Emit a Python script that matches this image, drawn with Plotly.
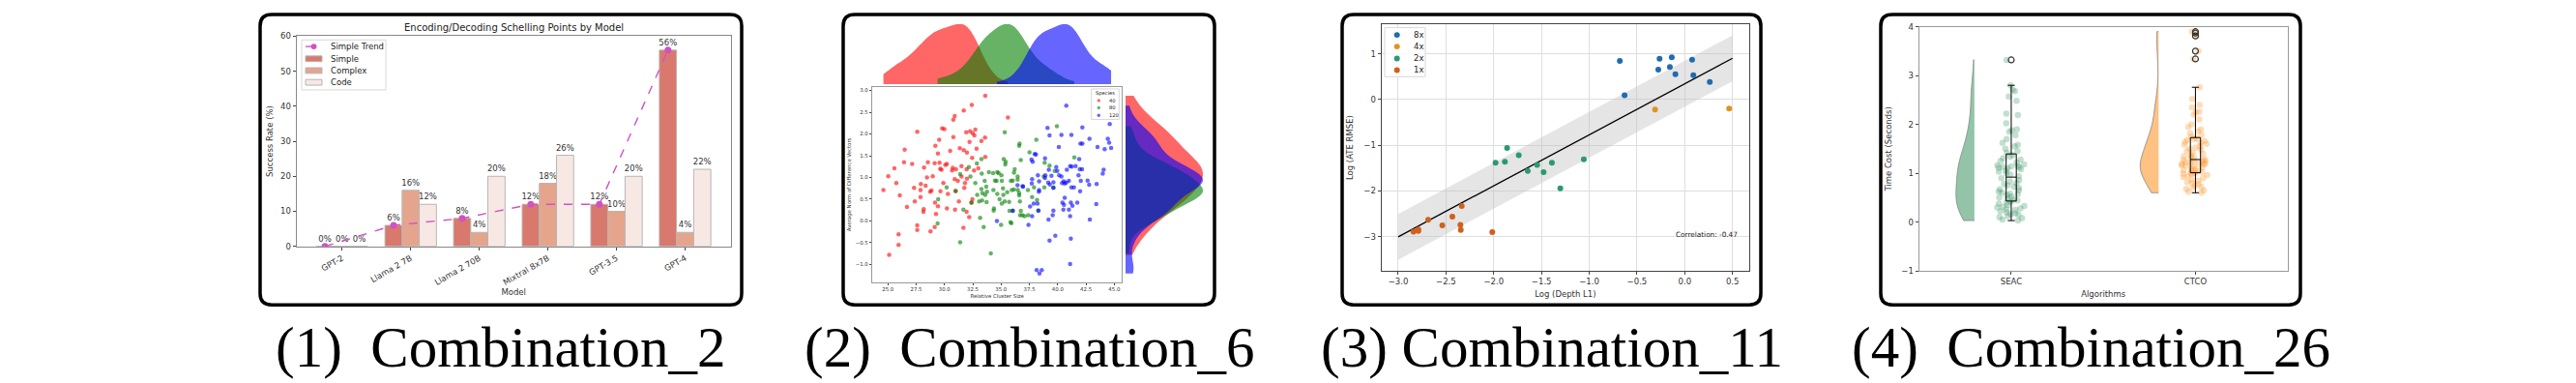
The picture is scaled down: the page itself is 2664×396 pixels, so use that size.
import plotly.graph_objects as go

W, H = 2664, 396

# ---------------- panel 1: grouped bars ----------------
models = ["GPT-2", "Llama 2 7B", "Llama 2 70B", "Mixtral 8x7B", "GPT-3.5", "GPT-4"]
simple = [0, 6, 8, 12, 12, 56]
complex_ = [0, 16, 4, 18, 10, 4]
code = [0, 12, 20, 26, 20, 22]

# ---------------- panel 2: joint scatter ----------------
sp40_x = [33.60, 32.41, 31.70, 30.90, 30.78, 29.79, 29.99, 27.59, 32.26, 32.72, 32.49, 32.64, 31.92,
          29.53, 30.78, 33.58, 33.26, 32.21, 29.19, 26.48, 31.35, 31.70, 32.83, 30.50, 29.42, 31.98,
          32.44, 33.60, 26.42, 27.14, 25.57, 28.53, 29.13, 29.56, 30.07, 30.21, 28.19, 29.62, 29.73,
          30.73, 30.67, 31.01, 31.50, 31.95, 32.61, 32.98, 25.03, 25.74, 28.45, 28.96, 31.50, 31.98,
          30.90, 31.18, 27.91, 29.90, 31.81, 24.60, 26.05, 27.31, 27.88, 28.33, 28.73, 28.85, 29.64,
          30.30, 31.75, 27.88, 26.68, 27.37, 29.16, 29.42, 28.16, 28.13, 30.21, 30.93, 31.27, 29.25,
          32.46, 31.95, 32.18, 27.59, 27.59, 29.13, 28.76, 31.67, 25.94, 25.94, 25.11, 32.38, 30.98,
          35.60]
sp40_y = [2.88, 2.67, 2.54, 2.41, 2.33, 2.13, 2.11, 2.05, 2.06, 2.10, 2.02, 1.97, 2.04,
          1.87, 1.93, 1.92, 1.84, 1.82, 1.73, 1.64, 1.67, 1.63, 1.66, 1.61, 1.55, 1.57,
          1.45, 1.47, 1.35, 1.31, 1.21, 1.35, 1.33, 1.34, 1.29, 1.31, 1.23, 1.20, 1.18,
          1.22, 1.16, 1.19, 1.26, 1.19, 1.16, 1.21, 1.03, 0.87, 1.00, 1.03, 1.02, 0.97,
          0.96, 0.92, 0.85, 0.87, 0.87, 0.71, 0.59, 0.76, 0.71, 0.81, 0.67, 0.70, 0.68,
          0.62, 0.76, 0.55, 0.32, 0.45, 0.42, 0.34, 0.27, 0.21, 0.29, 0.26, 0.45, 0.16,
          0.50, 0.21, 0.09, -0.10, -0.21, -0.14, -0.24, -0.16, -0.31, -0.55, -0.78, 0.42, 0.69,
          2.38]
sp80_x = [31.38, 32.15, 32.86, 33.26, 33.29, 32.29, 33.92, 34.29, 34.66, 33.55, 32.72, 34.60, 33.69,
          33.26, 34.32, 32.89, 33.35, 33.75, 33.60, 34.66, 33.06, 33.32, 33.72, 34.37, 34.34, 30.19,
          29.44, 31.67, 33.15, 33.46, 29.39, 31.38, 34.09, 30.98, 32.38, 35.32, 39.93, 36.63, 36.60,
          38.11, 37.51, 36.74, 35.23, 35.40, 35.37, 41.47, 39.28, 38.85, 36.20, 36.14, 34.78, 35.03,
          34.46, 35.06, 35.86, 36.03, 36.46, 36.46, 39.73, 38.76, 37.91, 37.37, 38.82, 39.62, 35.94,
          36.14, 36.48, 36.60, 36.60, 35.54, 35.17, 35.20, 34.86, 35.06, 35.32, 35.71, 36.66, 37.74,
          38.17, 35.74, 36.03, 36.74, 36.68, 36.88, 37.08, 37.40, 38.31, 35.83, 35.91, 35.00]
sp80_y = [1.08, 1.24, 1.32, 1.42, 1.09, 1.02, 1.12, 1.10, 1.12, 0.92, 0.87, 0.92, 0.79,
          0.73, 0.71, 0.60, 0.64, 0.67, 0.60, 0.62, 0.45, 0.47, 0.43, 0.29, 0.24, 0.77,
          0.50, 0.26, 0.07, -0.14, -0.06, -0.49, -0.75, 0.69, 0.42, 2.04, 2.18, 1.78, 1.73,
          1.87, 1.58, 1.40, 1.42, 1.36, 1.30, 1.46, 1.27, 1.34, 1.19, 1.11, 1.10, 1.05,
          0.93, 0.92, 0.92, 0.93, 1.02, 0.95, 1.15, 1.02, 0.77, 0.71, 0.77, 0.77, 0.71,
          0.72, 0.71, 0.64, 0.59, 0.66, 0.75, 0.60, 0.50, 0.40, 0.45, 0.44, 0.45, 0.55,
          0.48, 0.23, 0.24, 0.23, 0.13, 0.13, 0.11, 0.13, 0.24, -0.03, -0.05, -0.09]
sp120_x = [40.76, 39.10, 44.60, 42.18, 39.28, 40.33, 41.21, 42.81, 42.01, 42.18, 43.52, 44.43, 44.55,
           44.72, 44.15, 40.10, 37.97, 38.08, 37.68, 38.88, 37.79, 41.90, 41.10, 41.24, 40.81, 41.58,
           41.95, 42.15, 39.22, 39.87, 39.96, 39.45, 40.13, 40.33, 40.53, 40.39, 40.62, 40.76, 40.99,
           41.44, 41.21, 38.91, 38.88, 38.25, 38.36, 37.74, 37.71, 36.94, 38.36, 38.34, 39.62, 39.16,
           39.30, 39.62, 41.84, 42.04, 42.64, 42.78, 43.44, 41.98, 43.98, 44.06, 40.62, 40.42, 40.56,
           41.16, 41.30, 41.73, 40.50, 40.99, 37.88, 38.22, 38.28, 37.74, 39.62, 39.56, 41.10, 39.19,
           37.42, 34.63, 42.84, 43.41, 39.79, 39.28, 41.16, 41.10, 38.14, 38.59, 38.39, 36.45, 36.03,
           36.90, 37.56]
sp120_y = [2.65, 2.14, 2.23, 2.15, 1.97, 1.98, 1.98, 1.89, 1.78, 1.78, 1.70, 1.89, 1.80,
           1.68, 1.65, 1.70, 1.54, 1.53, 1.41, 1.44, 1.36, 1.42, 1.26, 1.25, 1.18, 1.26,
           1.19, 1.19, 1.18, 1.24, 1.15, 1.04, 1.05, 1.02, 0.91, 0.87, 0.86, 0.88, 0.92,
           0.77, 0.77, 1.05, 0.99, 1.05, 0.91, 0.96, 0.86, 0.79, 0.71, 0.67, 0.89, 0.88,
           0.84, 0.76, 1.05, 0.92, 0.93, 0.83, 0.85, 0.68, 1.09, 1.18, 0.53, 0.42, 0.37,
           0.42, 0.35, 0.42, 0.26, 0.26, 0.40, 0.40, 0.24, 0.11, 0.24, 0.13, 0.11, 0.03,
           -0.09, 0.00, 0.03, 0.39, -0.34, -0.45, -0.41, -0.99, -1.13, -1.13, -1.21, 0.82, 0.23,
           0.80, 0.33]

# ---------------- panel 3: log-log scatter ----------------
depth_8x = [-0.68, -0.63, -0.264, -0.277, -0.136, -0.156, -0.098, 0.077, 0.09, 0.262]
ate_8x = [0.84, 0.09, 0.89, 0.65, 0.92, 0.71, 0.55, 0.87, 0.53, 0.38]
depth_4x = [-0.311, 0.465]
ate_4x = [-0.22, -0.20]
depth_2x = [-1.981, -1.883, -1.86, -1.738, -1.644, -1.546, -1.478, -1.391, -1.303, -1.057]
ate_2x = [-1.38, -1.36, -1.06, -1.22, -1.56, -1.43, -1.59, -1.38, -1.94, -1.31]
depth_1x = [-2.84, -2.79, -2.79, -2.686, -2.538, -2.433, -2.349, -2.345, -2.335, -2.015]
ate_1x = [-2.89, -2.84, -2.87, -2.63, -2.75, -2.56, -2.74, -2.85, -2.33, -2.90]
fit_x = [-3.0, 0.5]
fit_y = [-3.0, 0.9]
band_hi = [-2.5, 1.4]
band_lo = [-3.5, 0.4]

# ---------------- panel 4: raincloud ----------------
algorithms = ["SEAC", "CTCO"]
seac = [0.03, 0.05, 0.08, 0.10, 0.12, 0.15, 0.16, 0.18, 0.20, 0.22, 0.25, 0.26, 0.28, 0.30, 0.31,
        0.33, 0.35, 0.38, 0.40, 0.42, 0.44, 0.46, 0.48, 0.50, 0.52, 0.55, 0.57, 0.58, 0.60, 0.62,
        0.65, 0.67, 0.70, 0.72, 0.75, 0.78, 0.80, 0.83, 0.86, 0.90, 0.94, 0.97, 1.00, 1.03, 1.05,
        1.08, 1.10, 1.11, 1.12, 1.13, 1.14, 1.15, 1.16, 1.18, 1.22, 1.25, 1.28, 1.31, 1.34, 1.37,
        1.42, 1.45, 1.50, 1.55, 1.58, 1.62, 1.70, 1.78, 1.85, 1.88, 1.90, 2.02, 2.19, 2.22, 2.48,
        2.57, 2.68, 2.71, 2.80, 3.32]
ctco = [0.60, 0.62, 0.65, 0.68, 0.70, 0.72, 0.75, 0.78, 0.80, 0.82, 0.85, 0.87, 0.90, 0.92, 0.94,
        0.96, 0.98, 0.99, 1.00, 1.00, 1.02, 1.04, 1.05, 1.06, 1.08, 1.10, 1.12, 1.14, 1.15, 1.16,
        1.18, 1.19, 1.20, 1.21, 1.22, 1.23, 1.24, 1.25, 1.26, 1.27, 1.29, 1.31, 1.33, 1.35, 1.37,
        1.40, 1.42, 1.45, 1.48, 1.50, 1.52, 1.55, 1.58, 1.60, 1.62, 1.64, 1.66, 1.68, 1.70, 1.71,
        1.75, 1.78, 1.82, 1.86, 1.90, 1.95, 2.00, 2.10, 2.20, 2.25, 2.26, 2.35, 2.40, 2.52, 2.76,
        3.34, 3.50, 3.81, 3.87, 3.90]

captions = ["(1)\u00a0\u00a0Combination_2", "(2)\u00a0\u00a0Combination_6",
            "(3) Combination_11", "(4)\u00a0\u00a0Combination_26"]

FONT = "DejaVu Sans"
TREND = "#d152c2"
BAR_COLORS = {"Simple": "#d9786c", "Complex": "#e5a58d", "Code": "#f8e8e4"}
SPECIES_RGB = {"40": "255,0,0", "80": "0,128,0", "120": "0,0,255"}
SCALE_COLORS = {"8x": "#1f6cb0", "4x": "#df9320", "2x": "#2a9a70", "1x": "#d0601a"}


def dx(a, b):
    return [a / W, b / W]


def dy(top, bottom):
    return [1 - bottom / H, 1 - top / H]


def rounded(x0, y0, x1, y1, r=12):
    X = lambda v: f"{v / W:.6f}"
    Y = lambda v: f"{1 - v / H:.6f}"
    return (f"M {X(x0 + r)},{Y(y0)} L {X(x1 - r)},{Y(y0)} Q {X(x1)},{Y(y0)} {X(x1)},{Y(y0 + r)} "
            f"L {X(x1)},{Y(y1 - r)} Q {X(x1)},{Y(y1)} {X(x1 - r)},{Y(y1)} "
            f"L {X(x0 + r)},{Y(y1)} Q {X(x0)},{Y(y1)} {X(x0)},{Y(y1 - r)} "
            f"L {X(x0)},{Y(y0 + r)} Q {X(x0)},{Y(y0)} {X(x0 + r)},{Y(y0)} Z")


def frame(line="#888", size=8.5, **kw):
    d = dict(showline=True, mirror=True, linecolor=line, linewidth=1.4, ticks="outside",
             ticklen=3, tickcolor="#444", showgrid=False, zeroline=False,
             tickfont=dict(family=FONT, size=size, color="#333"))
    d.update(kw)
    return d


fig = go.Figure()


# pixel-space helpers for the hand-made legends
def shape_px(kind, x0, y0, x1, y1, **kw):
    fig.add_shape(type=kind, xref="paper", yref="paper", x0=x0 / W, x1=x1 / W,
                  y0=1 - y1 / H, y1=1 - y0 / H, layer="above", **kw)


def text_px(x, y, s, size, xanchor="left", color="#222"):
    fig.add_annotation(x=x / W, y=1 - y / H, xref="paper", yref="paper", showarrow=False,
                       text=s, xanchor=xanchor, yanchor="middle",
                       font=dict(family=FONT, size=size, color=color))


# ---- panel 1
idx = list(range(len(models)))
fig.add_trace(go.Scatter(
    x=[i - 0.25 for i in idx], y=simple, mode="lines+markers", name="Simple Trend",
    line=dict(color=TREND, width=1.4, dash="dash"), marker=dict(size=7, color=TREND),
    xaxis="x", yaxis="y"))
for vals, name in [(simple, "Simple"), (complex_, "Complex"), (code, "Code")]:
    fig.add_trace(go.Bar(
        x=idx, y=vals, name=name,
        marker=dict(color=BAR_COLORS[name], line=dict(color="#b5b5b5", width=1)),
        text=[f"{v}%" for v in vals], textposition="outside", textangle=0, constraintext="none",
        cliponaxis=False, textfont=dict(family=FONT, size=8.5, color="#333"),
        xaxis="x", yaxis="y"))

# ---- panel 2
species = [("40", sp40_x, sp40_y), ("80", sp80_x, sp80_y), ("120", sp120_x, sp120_y)]
for name, xs, ys in species:
    fig.add_trace(go.Scatter(
        x=xs, y=ys, mode="markers", name=name,
        marker=dict(size=4.5, color=f"rgba({SPECIES_RGB[name]},0.6)", line=dict(width=0)),
        xaxis="x2", yaxis="y2"))
for name, xs, ys in species:
    fig.add_trace(go.Violin(
        x=xs, y0=0, orientation="h", side="positive", width=2, spanmode="hard",
        scalegroup="top", scalemode="count", points=False,
        fillcolor=f"rgba({SPECIES_RGB[name]},0.6)", line=dict(width=0), hoverinfo="skip",
        xaxis="x3", yaxis="y3"))
for name, xs, ys in species:
    fig.add_trace(go.Violin(
        y=ys, x0=0, orientation="v", side="positive", width=2, spanmode="hard",
        scalegroup="right", scalemode="count", points=False,
        fillcolor=f"rgba({SPECIES_RGB[name]},0.6)", line=dict(width=0), hoverinfo="skip",
        xaxis="x4", yaxis="y4"))

# ---- panel 3
fig.add_trace(go.Scatter(
    x=fit_x + fit_x[::-1], y=band_hi + band_lo[::-1], fill="toself", mode="lines",
    fillcolor="rgba(190,190,190,0.4)", line=dict(width=0), hoverinfo="skip",
    xaxis="x5", yaxis="y5"))
fig.add_trace(go.Scatter(x=fit_x, y=fit_y, mode="lines", line=dict(color="black", width=1.3),
                         xaxis="x5", yaxis="y5"))
for name, xs, ys in [("8x", depth_8x, ate_8x), ("4x", depth_4x, ate_4x),
                     ("2x", depth_2x, ate_2x), ("1x", depth_1x, ate_1x)]:
    fig.add_trace(go.Scatter(x=xs, y=ys, mode="markers", name=name,
                             marker=dict(size=6, color=SCALE_COLORS[name]),
                             xaxis="x5", yaxis="y5"))

# ---- panel 4
for pos, vals, fill, pt in [(0, seac, "#93c4a8", "rgba(40,140,85,0.28)"),
                            (1, ctco, "#fec283", "rgba(255,150,40,0.32)")]:
    fig.add_trace(go.Violin(
        y=vals, x0=pos - 0.2, side="negative", width=0.2, spanmode="hard", scalemode="width",
        points=False, fillcolor=fill, line=dict(color="#888", width=0.8), opacity=1,
        hoverinfo="skip", xaxis="x6", yaxis="y6"))
    fig.add_trace(go.Box(
        y=vals, x0=pos, width=0.18, boxpoints="all", jitter=1, pointpos=0,
        fillcolor="rgba(0,0,0,0)", line=dict(color="rgba(0,0,0,0)", width=0),
        marker=dict(size=6.5, color=pt), hoverinfo="skip", xaxis="x6", yaxis="y6"))
    fig.add_trace(go.Box(
        y=vals, x0=pos, width=0.055, boxpoints="outliers", whiskerwidth=0.7,
        fillcolor="rgba(0,0,0,0)", line=dict(color="black", width=1),
        marker=dict(symbol="circle-open", size=6, color="#333", line=dict(width=1.2)),
        xaxis="x6", yaxis="y6"))

fig.update_layout(
    width=W, height=H, margin=dict(l=0, r=0, t=0, b=0), showlegend=False,
    paper_bgcolor="white", plot_bgcolor="white",
    font=dict(family=FONT, color="#333"),
    barmode="group", bargap=0.25, bargroupgap=0, violinmode="overlay", boxmode="overlay",
    xaxis=frame(domain=dx(298.8, 747.5), range=[-0.6625, 5.6625], tickvals=idx, ticktext=models,
                tickangle=-30, anchor="y",
                title=dict(text="Model", font=dict(size=8.5), standoff=2)),
    yaxis=frame(domain=dy(25, 248), range=[0, 60], dtick=10, anchor="x",
                title=dict(text="Success Rate (%)", font=dict(size=8.5), standoff=6)),
    xaxis2=frame(line="#999", size=5.4, domain=dx(894, 1152.3), range=[23.61, 45.68],
                 dtick=2.5, tick0=25, tickformat=".1f", anchor="y2", ticklen=2,
                 title=dict(text="Relative Cluster Size", font=dict(size=5.4), standoff=2)),
    yaxis2=frame(line="#999", size=5.4, domain=dy(79, 286), range=[-1.41, 3.08], dtick=0.5,
                 tickformat=".1f", anchor="x2", ticklen=2,
                 title=dict(text="Average Norm of Difference Vectors", font=dict(size=5.4),
                            standoff=3)),
    xaxis3=dict(domain=dx(894, 1152.3), range=[23.61, 45.68], visible=False, anchor="y3"),
    yaxis3=dict(domain=dy(12, 76), range=[0, 1], visible=False, anchor="x3"),
    xaxis4=dict(domain=dx(1156, 1236), range=[0, 1], visible=False, anchor="y4"),
    yaxis4=dict(domain=dy(79, 286), range=[-1.41, 3.08], visible=False, anchor="x4"),
    xaxis5=frame(line="#444", domain=dx(1420.7, 1801), range=[-3.175, 0.675], dtick=0.5,
                 tick0=0, tickformat=".1f", showgrid=True, gridcolor="#dedede", gridwidth=1.3,
                 anchor="y5", title=dict(text="Log (Depth L1)", font=dict(size=8.5), standoff=5)),
    yaxis5=frame(line="#444", domain=dy(12.3, 274), range=[-3.745, 1.645], dtick=1,
                 showgrid=True, gridcolor="#dedede", gridwidth=1.3, anchor="x5",
                 title=dict(text="Log (ATE RMSE)", font=dict(size=8.5), standoff=9)),
    xaxis6=frame(line="#999", domain=dx(1976.7, 2357.7), range=[-0.5, 1.5], tickvals=[0, 1],
                 ticktext=algorithms, anchor="y6",
                 title=dict(text="Algorithms", font=dict(size=8.5), standoff=5)),
    yaxis6=frame(line="#999", domain=dy(15, 274), range=[-1, 4], dtick=1, anchor="x6",
                 title=dict(text="Time Cost (Seconds)", font=dict(size=8.5), standoff=8)),
)

# ---- legends (drawn by hand so they keep matplotlib's compact rows)
# panel 1
shape_px("rect", 304, 29, 391, 82, line=dict(color="#d8d8d8", width=1),
         fillcolor="rgba(255,255,255,0.85)")
shape_px("line", 308, 36, 325, 36, line=dict(color=TREND, width=1.4, dash="dash"))
shape_px("circle", 313.5, 33, 319.5, 39, line=dict(width=0), fillcolor=TREND)
text_px(332, 36, "Simple Trend", 8.5)
for row_y, name in zip([49, 61.5, 74], ["Simple", "Complex", "Code"]):
    shape_px("rect", 308, row_y - 3, 325, row_y + 3, line=dict(color="#b5b5b5", width=1),
             fillcolor=BAR_COLORS[name])
    text_px(332, row_y, name, 8.5)

# panel 2
shape_px("rect", 1120.7, 81, 1149.3, 113.3, line=dict(color="#d8d8d8", width=1),
         fillcolor="rgba(255,255,255,0.85)")
text_px(1135, 86, "Species", 5.2, xanchor="center")
for row_y, name in zip([93.3, 101, 109], ["40", "80", "120"]):
    shape_px("circle", 1126.6, row_y - 1.7, 1130, row_y + 1.7, line=dict(width=0),
             fillcolor=f"rgba({SPECIES_RGB[name]},0.6)")
    text_px(1137.3, row_y, name, 5.2)

# panel 3
shape_px("rect", 1424, 16, 1466, 68, line=dict(color="#d8d8d8", width=1),
         fillcolor="rgba(255,255,255,0.85)")
for row_y, name in zip([23.7, 36, 48.7, 61], ["8x", "4x", "2x", "1x"]):
    shape_px("circle", 1433.7, row_y - 3, 1439.7, row_y + 3, line=dict(width=0),
             fillcolor=SCALE_COLORS[name])
    text_px(1452, row_y, name, 8.5)

# panel frames
panels = [(261, 759), (864, 1248), (1380, 1813), (1937, 2371)]
for x0, x1 in panels:
    fig.add_shape(type="path", path=rounded(x0, 2, x1, 310), xref="paper", yref="paper",
                  line=dict(color="black", width=3.5), layer="above")

# titles, notes, captions
text_px(523.5, 16, "Encoding/Decoding Schelling Points by Model", 10, xanchor="center")
text_px(1791, 235, "Correlation: -0.47", 7.3, xanchor="right")
for (x0, x1), cap in zip(panels, captions):
    fig.add_annotation(x=(x0 + x1) / 2 / W, y=1 - 391 / H, xref="paper", yref="paper",
                       showarrow=False, text=cap, xanchor="center", yanchor="bottom",
                       font=dict(family="Liberation Serif", size=59, color="black"))

fig.write_html("out.html")
